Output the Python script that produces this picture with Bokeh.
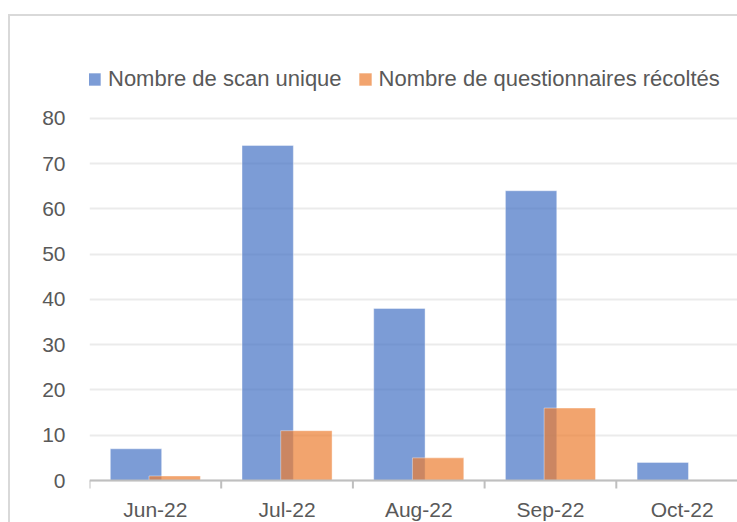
import numpy as np
from bokeh.plotting import figure
from bokeh.models import Range1d, FixedTicker, Span, Legend, LegendItem
from bokeh.core.properties import value
from bokeh.embed import file_html
from bokeh.resources import INLINE

# ---- data ----
months = ["Jun-22", "Jul-22", "Aug-22", "Sep-22", "Oct-22"]
scan_unique = [7, 74, 38, 64, 4]
questionnaires = [1, 11, 5, 16, 0]
y_ticks = [0, 10, 20, 30, 40, 50, 60, 70, 80]
series_labels = ["Nombre de scan unique", "Nombre de questionnaires récoltés"]

# ---- layout (pixels) ----
W, H = 729, 508
FRAME_LEFT = 81
CAT_PX = 131.7
ZERO_PX = 466.0
TOP_PX = 103.8
TICK_PX = 8

ppu = (ZERO_PX - TOP_PX) / y_ticks[-1]
y_start = -(H - ZERO_PX) / ppu
y_end = y_ticks[-1] + TOP_PX / ppu
x_end = (W - FRAME_LEFT) / CAT_PX

n = len(months)
centers = np.arange(n) + 0.5
bounds = np.arange(n + 1).astype(float)

BLUE = "#4472C4"
ORANGE = "#ED7D31"
TXT = "#595959"
FONT = "Liberation Sans"

p = figure(width=W, height=H, output_backend="svg", toolbar_location=None,
           x_range=Range1d(0, x_end), y_range=Range1d(y_start, y_end),
           x_axis_location=None, y_axis_location="left",
           min_border_left=FRAME_LEFT, min_border_right=0,
           min_border_top=0, min_border_bottom=0)
p.styles = {"position": "absolute", "top": "14px", "left": "8px",
            "box-shadow": "inset 2px 2px 0 0 #D9D9D9"}
p.background_fill_color = None
p.border_fill_color = None
p.outline_line_color = None
p.xgrid.visible = False

# y axis
p.yaxis.ticker = FixedTicker(ticks=y_ticks)
p.yaxis.axis_line_color = None
p.yaxis.major_tick_line_color = None
p.yaxis.minor_tick_line_color = None
p.yaxis.major_tick_in = 0
p.yaxis.major_tick_out = 0
p.yaxis.major_label_standoff = 24
p.yaxis.major_label_text_font = FONT
p.yaxis.major_label_text_font_size = "21px"
p.yaxis.major_label_text_color = TXT
p.ygrid.ticker = FixedTicker(ticks=y_ticks)
p.ygrid.grid_line_color = "#EBEBEB"
p.ygrid.grid_line_width = 2

# bars
r1 = p.vbar(x=centers - 0.147, top=scan_unique, width=0.39, bottom=0,
            fill_color=BLUE, fill_alpha=0.7, line_color="white", line_alpha=0.4, line_width=1)
r2 = p.vbar(x=centers + 0.147, top=questionnaires, width=0.39, bottom=0,
            fill_color=ORANGE, fill_alpha=0.7, line_color="white", line_alpha=0.4, line_width=1)

# x axis line, ticks and labels
p.add_layout(Span(location=0, dimension="width", line_color="#BFBFBF", line_width=2))
p.segment(x0=bounds, y0=np.zeros(n + 1), x1=bounds, y1=np.full(n + 1, -TICK_PX / ppu),
          line_color="#BFBFBF", line_width=2)
p.text(x=centers, y=np.zeros(n), text=months, y_offset=29,
       text_align="center", text_baseline="alphabetic",
       text_font=value(FONT), text_font_size=value("21px"), text_color=TXT)

legend = Legend(items=[LegendItem(label=series_labels[0], renderers=[r1]),
                       LegendItem(label=series_labels[1], renderers=[r2])],
                location=(-3, 430), orientation="horizontal", padding=0, margin=0,
                spacing=15, label_standoff=6, glyph_width=16, glyph_height=16,
                label_height=26, label_text_font=FONT, label_text_font_size="22px",
                label_text_color=TXT, border_line_color=None, background_fill_alpha=0)
p.add_layout(legend)

open("out.html", "w").write(file_html(p, INLINE))
